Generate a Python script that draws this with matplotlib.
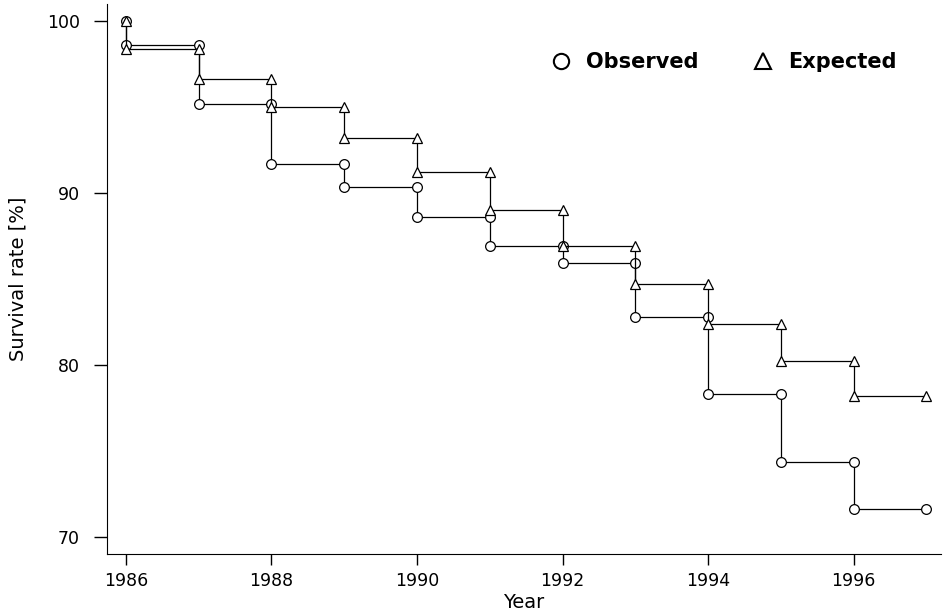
import matplotlib.pyplot as plt
from matplotlib.lines import Line2D

# survival rate per year, first value is the start (100%) and each next one
# is the value after the drop at that year
years = [1986, 1987, 1988, 1989, 1990, 1991, 1992, 1993, 1994, 1995, 1996, 1997]
observed = [100, 98.6, 95.2, 91.7, 90.35, 88.6, 86.9, 85.9, 82.8, 78.3, 74.35, 71.6]
expected = [100, 98.4, 96.6, 95.0, 93.2, 91.2, 89.0, 86.9, 84.7, 82.4, 80.2, 78.2]

xticks = [1986, 1988, 1990, 1992, 1994, 1996]
yticks = [70, 80, 90, 100]

plt.rcParams['font.family'] = ['DejaVu Sans']

fig = plt.figure(figsize=(9.43, 6.13), dpi=100)
ax = fig.add_axes([107 / 943, 1 - 554 / 613, 834 / 943, 550 / 613])

for vals, mk in [(observed, 'o'), (expected, '^')]:
    ax.step(years, vals, where='pre', color='black', lw=0.9)
    # marker before and after each drop
    ax.plot(years, vals, linestyle='none', marker=mk, ms=7, mfc='white',
            mec='black', mew=0.9)
    ax.plot(years[:-1], vals[1:], linestyle='none', marker=mk, ms=7,
            mfc='white', mec='black', mew=0.9)

ax.set_xlim(1985.74, 1997.2)
ax.set_ylim(68.99, 100.99)
ax.set_xticks(xticks)
ax.set_yticks(yticks)
ax.spines['top'].set_visible(False)
ax.spines['right'].set_visible(False)
ax.tick_params(axis='y', direction='out', length=9.5, width=1, pad=10, labelsize=12.5)
ax.tick_params(axis='x', direction='out', length=8, width=1, pad=5, labelsize=12.5)
ax.set_xlabel('Year', fontsize=14, labelpad=2)
ax.set_ylabel('Survival rate [%]', fontsize=14, labelpad=14)

handles = [
    Line2D([], [], linestyle='none', marker='o', ms=11, mfc='white', mec='black', mew=1.5),
    Line2D([], [], linestyle='none', marker='^', ms=11, mfc='white', mec='black', mew=1.5),
]
fig.legend(handles, ['Observed', 'Expected'], ncol=2, frameon=False,
           loc='center left', bbox_to_anchor=(540 / 943, 1 - 62 / 613),
           prop={'weight': 'bold', 'size': 15}, borderpad=0,
           handlelength=1.0, handletextpad=0.7, columnspacing=2.6)

fig.savefig('out.png', dpi=100)
